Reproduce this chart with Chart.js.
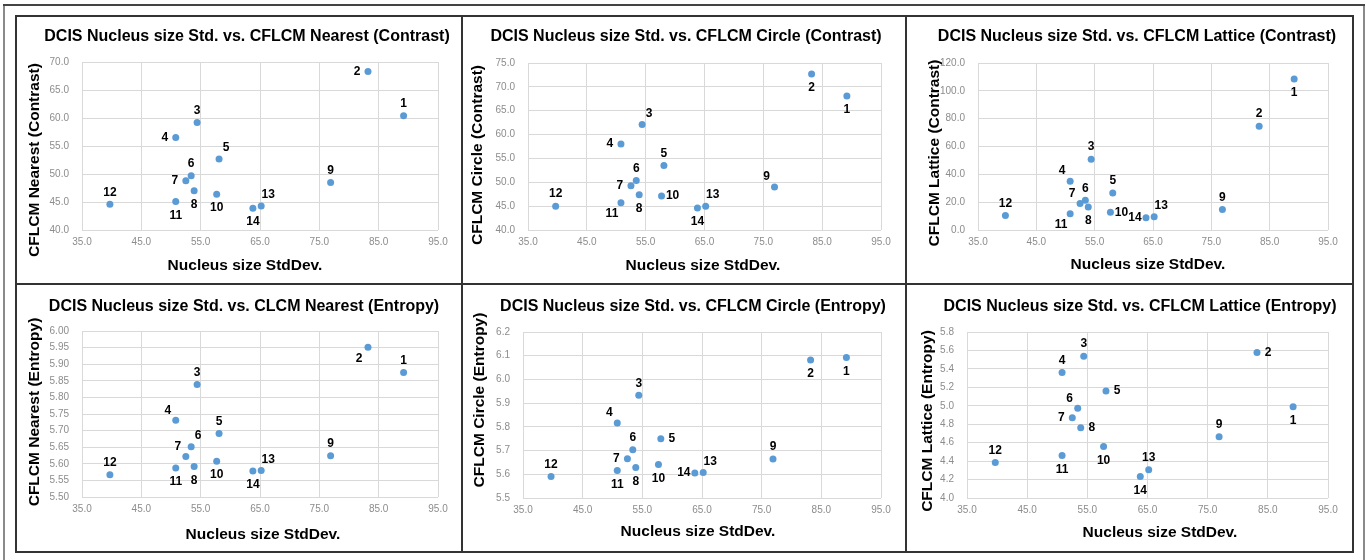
<!DOCTYPE html>
<html>
<head>
<meta charset="utf-8">
<script src="https://cdn.jsdelivr.net/npm/chart.js@4.4.1/dist/chart.umd.min.js"></script>
<style>
  html, body { margin: 0; padding: 0; background: #fff; }
  #wrap { position: relative; width: 1366px; height: 560px; overflow: hidden; background: #fff; }
  canvas.layer { position: absolute; left: 0; top: 0; }
  .ln { position: absolute; }
</style>
</head>
<body>
<div id="wrap">
  <div class="ln" style="left:3px;top:4px;width:2px;height:556px;background:#8a8a8a"></div>
  <div class="ln" style="left:1363px;top:4px;width:2px;height:556px;background:#8a8a8a"></div>
  <div class="ln" style="left:3px;top:4px;width:1362px;height:1.5px;background:#444"></div>
  <div class="ln" style="left:15px;top:15px;width:1.5px;height:538px;background:#333"></div>
  <div class="ln" style="left:461px;top:15px;width:1.5px;height:538px;background:#333"></div>
  <div class="ln" style="left:905px;top:15px;width:1.5px;height:538px;background:#333"></div>
  <div class="ln" style="left:1352px;top:15px;width:1.5px;height:538px;background:#333"></div>
  <div class="ln" style="left:15px;top:15px;width:1339px;height:1.5px;background:#333"></div>
  <div class="ln" style="left:15px;top:283px;width:1339px;height:1.5px;background:#333"></div>
  <div class="ln" style="left:15px;top:551px;width:1339px;height:1.5px;background:#333"></div>
</div>
<script>
// ---- data ----
const pointIds = ['1','2','3','4','5','6','7','8','9','10','11','12','13','14'];
const nucleusStdDev = [89.2, 83.2, 54.4, 50.8, 58.1, 53.4, 52.5, 53.9, 76.9, 57.7, 50.8, 39.7, 65.2, 63.8];
const nearestContrast = [60.4, 68.3, 59.2, 56.5, 52.7, 49.7, 48.8, 47.0, 48.5, 46.4, 45.1, 44.6, 44.3, 43.9];
const circleContrast = [68.1, 72.7, 62.1, 58.0, 53.5, 50.4, 49.3, 47.4, 49.0, 47.1, 45.7, 45.0, 45.0, 44.6];
const latticeContrast = [108.5, 74.6, 50.9, 35.1, 26.5, 21.3, 19.1, 16.5, 14.8, 12.7, 11.7, 10.5, 9.5, 8.8];
const nearestEntropy = [5.875, 5.951, 5.839, 5.731, 5.691, 5.651, 5.622, 5.592, 5.624, 5.608, 5.587, 5.567, 5.580, 5.578];
const circleEntropy = [6.092, 6.082, 5.933, 5.816, 5.750, 5.703, 5.666, 5.629, 5.664, 5.641, 5.616, 5.591, 5.608, 5.605];
const latticeEntropy = [4.990, 5.578, 5.538, 5.362, 5.160, 4.973, 4.871, 4.763, 4.663, 4.558, 4.461, 4.385, 4.306, 4.234];

const xTicksRange = { min: 35, max: 95, step: 10 };
const xAxisTitle = 'Nucleus size StdDev.';

// ---- label placement codes (t, b, l, r, tl, tr, bl, br) ----
const labelOffsets = {
  t: [0, -12], b: [0, 14], l: [-11, 0], r: [11, 0],
  tl: [-8, -10], tr: [7, -11], bl: [-9, 11], br: [8, 11]
};

const panels = [
  { title: 'DCIS Nucleus size Std. vs. CFLCM Nearest (Contrast)', yTitle: 'CFLCM Nearest (Contrast)',
    values: nearestContrast, yMin: 40, yMax: 70, yStep: 5, dec: 1,
    area: [82, 438, 62, 230], titlePos: [247, 37], yTitlePos: [35, 160], xTitlePos: [245, 266],
    labels: ['t','l','t','l','tr','t','l','b','t','b','b','t','tr','b'] },
  { title: 'DCIS Nucleus size Std. vs. CFLCM Circle (Contrast)', yTitle: 'CFLCM Circle (Contrast)',
    values: circleContrast, yMin: 40, yMax: 75, yStep: 5, dec: 1,
    area: [528, 881, 63, 230], titlePos: [686, 37], yTitlePos: [478, 155], xTitlePos: [703, 266],
    labels: ['b','b','tr','l','t','t','l','b','tl','r','bl','t','tr','b'] },
  { title: 'DCIS Nucleus size Std. vs. CFLCM Lattice (Contrast)', yTitle: 'CFLCM Lattice (Contrast)',
    values: latticeContrast, yMin: 0, yMax: 120, yStep: 20, dec: 1,
    area: [978, 1328, 63, 230], titlePos: [1137, 37], yTitlePos: [935, 153], xTitlePos: [1148, 265],
    labels: ['b','t','t','tl','t','t','tl','b','t','r','bl','t','tr','l'] },
  { title: 'DCIS Nucleus size Std. vs. CLCM Nearest (Entropy)', yTitle: 'CFLCM Nearest (Entropy)',
    values: nearestEntropy, yMin: 5.5, yMax: 6.0, yStep: 0.05, dec: 2,
    area: [82, 438, 331, 497], titlePos: [244, 307], yTitlePos: [35, 412], xTitlePos: [263, 535],
    labels: ['t','bl','t','tl','t','tr','tl','b','t','b','b','t','tr','b'] },
  { title: 'DCIS Nucleus size Std. vs. CFLCM Circle (Entropy)', yTitle: 'CFLCM Circle (Entropy)',
    values: circleEntropy, yMin: 5.5, yMax: 6.2, yStep: 0.1, dec: 1,
    area: [523, 881, 332, 498], titlePos: [693, 307], yTitlePos: [480, 400], xTitlePos: [698, 532],
    labels: ['b','b','t','tl','r','t','l','b','t','b','b','t','tr','l'] },
  { title: 'DCIS Nucleus size Std. vs. CFLCM Lattice (Entropy)', yTitle: 'CFLCM Lattice (Entropy)',
    values: latticeEntropy, yMin: 4.0, yMax: 5.8, yStep: 0.2, dec: 1,
    area: [967, 1328, 332, 498], titlePos: [1140, 307], yTitlePos: [928, 421], xTitlePos: [1160, 533],
    labels: ['b','r','t','t','r','tl','l','r','t','b','b','t','t','b'] }
];

const W = 1366, H = 560, YW = 40, XH = 22;
const FONT = "'Liberation Sans', Arial, sans-serif";

const decoratePlugin = {
  id: 'decorate',
  afterDatasetsDraw(chart) {
    const cfg = chart.options.plugins.decorate;
    const ctx = chart.ctx;
    ctx.save();
    // point labels
    ctx.font = 'bold 12px ' + FONT;
    ctx.fillStyle = '#000';
    ctx.textAlign = 'center';
    ctx.textBaseline = 'middle';
    const meta = chart.getDatasetMeta(0);
    meta.data.forEach((pt, i) => {
      const off = labelOffsets[cfg.labels[i]] || [0, -12];
      ctx.fillText(pointIds[i], pt.x + off[0], pt.y + off[1]);
    });
    // titles
    ctx.font = 'bold 16px ' + FONT;
    ctx.fillText(cfg.title, cfg.titlePos[0], cfg.titlePos[1]);
    ctx.font = 'bold 15.5px ' + FONT;
    ctx.fillText(xAxisTitle, cfg.xTitlePos[0], cfg.xTitlePos[1]);
    ctx.translate(cfg.yTitlePos[0], cfg.yTitlePos[1]);
    ctx.rotate(-Math.PI / 2);
    ctx.fillText(cfg.yTitle, 0, 0);
    ctx.restore();
  }
};

const wrap = document.getElementById('wrap');
panels.forEach((p) => {
  const cv = document.createElement('canvas');
  cv.className = 'layer';
  cv.width = W; cv.height = H;
  cv.style.width = W + 'px'; cv.style.height = H + 'px';
  wrap.appendChild(cv);
  const [L, R, T, B] = p.area;
  new Chart(cv.getContext('2d'), {
    type: 'scatter',
    data: {
      datasets: [{
        data: nucleusStdDev.map((x, i) => ({ x: x, y: p.values[i] })),
        backgroundColor: '#5B9BD5',
        borderColor: '#5B9BD5',
        borderWidth: 0,
        pointRadius: 3.5,
        pointHoverRadius: 3.5
      }]
    },
    options: {
      responsive: false,
      animation: false,
      devicePixelRatio: 1,
      events: [],
      layout: { padding: { left: L - YW, right: W - R, top: T, bottom: H - B - XH } },
      plugins: {
        legend: { display: false },
        tooltip: { enabled: false },
        title: { display: false },
        decorate: { title: p.title, yTitle: p.yTitle, titlePos: p.titlePos, yTitlePos: p.yTitlePos,
                    xTitlePos: p.xTitlePos, labels: p.labels }
      },
      scales: {
        x: {
          type: 'linear', min: xTicksRange.min, max: xTicksRange.max,
          afterFit: (s) => { s.height = XH; },
          ticks: { stepSize: xTicksRange.step, color: '#8c8c8c', padding: 6,
                   font: { family: FONT, size: 10 }, maxRotation: 0,
                   callback: (v) => Number(v).toFixed(1) },
          grid: { color: '#d9d9d9', lineWidth: 1, drawTicks: false },
          border: { display: false }
        },
        y: {
          type: 'linear', min: p.yMin, max: p.yMax,
          afterFit: (s) => { s.width = YW; },
          ticks: { stepSize: p.yStep, color: '#8c8c8c', padding: 13,
                   font: { family: FONT, size: 10 },
                   callback: (v) => Number(v).toFixed(p.dec) },
          grid: { color: '#d9d9d9', lineWidth: 1, drawTicks: false },
          border: { display: false }
        }
      }
    },
    plugins: [decoratePlugin]
  });
});
</script>
</body>
</html>
